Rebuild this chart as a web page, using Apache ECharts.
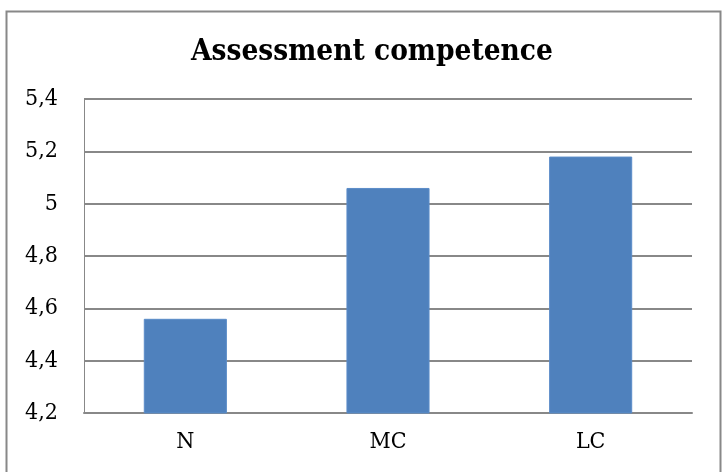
<!DOCTYPE html>
<html>
<head>
<meta charset="utf-8">
<script src="https://cdn.jsdelivr.net/npm/echarts@6/dist/echarts.min.js"></script>
<style>
html,body{margin:0;padding:0;background:#fff;}
#chart{width:722px;height:472px;}
</style>
</head>
<body>
<div id="chart"></div>
<script>
var categories = ['N', 'MC', 'LC'];
var values = [4.56, 5.06, 5.18];
var yMin = 4.2, yMax = 5.4, yStep = 0.2;

var chart = echarts.init(document.getElementById('chart'));
var fontFam = '"DejaVu Serif Condensed", "DejaVu Serif", serif';

chart.setOption({
    animation: false,
    backgroundColor: '#fff',
    title: {
        text: 'Assessment competence',
        left: 186,
        top: 32,
        textStyle: {
            fontFamily: fontFam,
            fontWeight: 'bold',
            fontSize: 29.5,
            color: '#000'
        }
    },
    graphic: [{
        type: 'rect',
        shape: {x: 6.5, y: 11.5, width: 714, height: 470},
        style: {fill: 'none', stroke: '#888', lineWidth: 2}
    }],
    grid: {left: 84, right: 30, top: 99, bottom: 59},
    xAxis: {
        type: 'category',
        data: categories,
        axisLine: {lineStyle: {color: '#888', width: 2}},
        axisTick: {show: false},
        axisLabel: {fontFamily: fontFam, fontSize: 23, color: '#000', margin: 18}
    },
    yAxis: {
        type: 'value',
        min: yMin,
        max: yMax,
        interval: yStep,
        axisLine: {show: true, lineStyle: {color: '#888', width: 1}},
        axisTick: {show: false},
        splitLine: {lineStyle: {color: '#888', width: 2}},
        axisLabel: {
            fontFamily: fontFam,
            fontSize: 23,
            color: '#000',
            margin: 26,
            formatter: function (v) { return (Math.round(v * 10) / 10).toString().replace('.', ','); }
        }
    },
    series: [{
        type: 'bar',
        data: values,
        barWidth: '41%',
        itemStyle: {color: '#4F81BD', borderColor: '#5B8CC8', borderWidth: 1}
    }]
});
</script>
</body>
</html>
